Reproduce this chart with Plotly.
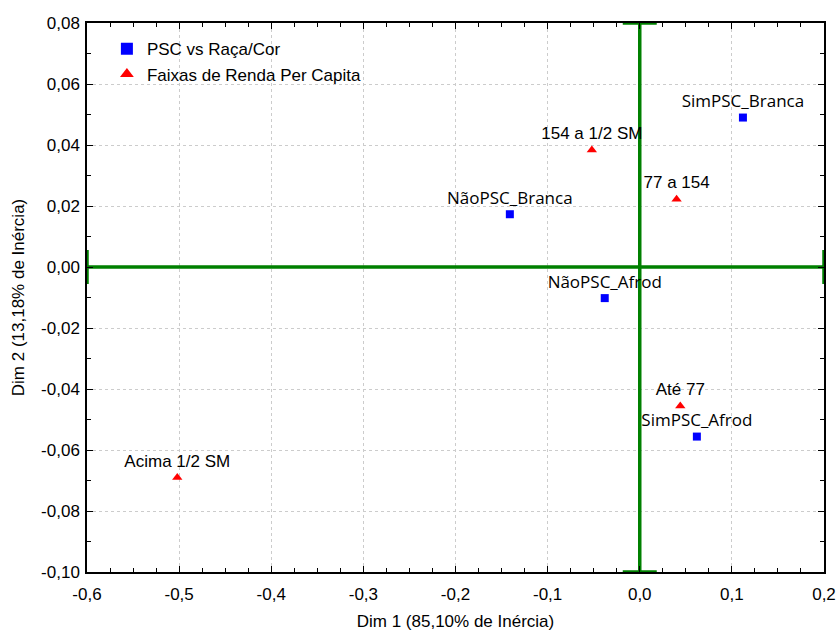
import plotly.graph_objects as go

# --- data -------------------------------------------------------------
psc_labels = ["SimPSC_Branca", "NãoPSC_Branca", "NãoPSC_Afrod", "SimPSC_Afrod"]
psc_dim1 = [0.112, -0.141, -0.038, 0.062]
psc_dim2 = [0.049, 0.0173, -0.0102, -0.0556]

renda_labels = ["154 a 1/2 SM", "77 a 154", "Até 77", "Acima 1/2 SM"]
renda_dim1 = [-0.052, 0.040, 0.044, -0.502]
renda_dim2 = [0.0384, 0.0222, -0.0456, -0.069]

x_ticks = [-0.6, -0.5, -0.4, -0.3, -0.2, -0.1, 0.0, 0.1, 0.2]
x_ticktext = ["-0,6", "-0,5", "-0,4", "-0,3", "-0,2", "-0,1", "0,0", "0,1", "0,2"]
y_ticks = [-0.10, -0.08, -0.06, -0.04, -0.02, 0.0, 0.02, 0.04, 0.06, 0.08]
y_ticktext = ["-0,10", "-0,08", "-0,06", "-0,04", "-0,02", "0,00", "0,02", "0,04", "0,06", "0,08"]

x_range = [-0.6, 0.2]
y_range = [-0.10, 0.08]

GREEN = "#008000"
FONT = "Liberation Sans, Arial"
TICKFONT = dict(family=FONT, size=17, color="#000000")

fig = go.Figure()

# origin cross lines drawn as error bars from the origin to the axis limits
fig.add_trace(go.Scatter(
    x=[0.0], y=[0.0], mode="markers",
    marker=dict(size=1, color="rgba(0,0,0,0)"),
    error_x=dict(type="data", symmetric=False,
                 array=[x_range[1] - 0.0], arrayminus=[0.0 - x_range[0]],
                 color=GREEN, thickness=3.5, width=17),
    error_y=dict(type="data", symmetric=False,
                 array=[y_range[1] - 0.0], arrayminus=[0.0 - y_range[0]],
                 color=GREEN, thickness=3.5, width=17),
    showlegend=False, hoverinfo="skip", cliponaxis=False,
))

fig.add_trace(go.Scatter(
    x=psc_dim1, y=psc_dim2, mode="markers+text",
    name="PSC vs Raça/Cor",
    marker=dict(symbol="square", size=8, color="#0000ff"),
    text=psc_labels, textposition="top center",
    textfont=dict(family="Open Sans", size=17, color="#000000"),
    cliponaxis=False,
))

fig.add_trace(go.Scatter(
    x=renda_dim1, y=renda_dim2, mode="markers+text",
    name="Faixas de Renda Per Capita",
    marker=dict(symbol="triangle-up", size=9, color="#ff0000"),
    text=renda_labels, textposition="top center",
    textfont=dict(family=FONT, size=17, color="#000000"),
    cliponaxis=False,
))

axis_common = dict(
    showline=True, linecolor="#000000", linewidth=1.5, mirror="ticks",
    ticks="inside", ticklen=6, tickcolor="#000000", tickwidth=1,
    showgrid=True, gridcolor="#cccccc", griddash="dot", gridwidth=1,
    zeroline=False, tickfont=TICKFONT, automargin=False,
)

fig.update_xaxes(
    range=x_range, tickmode="array", tickvals=x_ticks, ticktext=x_ticktext,
    minor=dict(dtick=0.025, ticks="inside", ticklen=4, tickcolor="#000000", showgrid=False),
    title=dict(text="Dim 1 (85,10% de Inércia)", font=dict(family=FONT, size=17), standoff=18),
    ticklabelstandoff=6,
    **axis_common,
)
fig.update_yaxes(
    range=y_range, tickmode="array", tickvals=y_ticks, ticktext=y_ticktext,
    minor=dict(dtick=0.01, ticks="inside", ticklen=4, tickcolor="#000000", showgrid=False),
    title=dict(text="Dim 2 (13,18% de Inércia)", font=dict(family=FONT, size=17), standoff=12),
    ticklabelstandoff=2,
    **axis_common,
)

fig.update_layout(
    width=837, height=631,
    margin=dict(l=87, r=13, t=23, b=59),
    paper_bgcolor="#ffffff", plot_bgcolor="#ffffff",
    separators=",.",
    font=dict(family=FONT, size=17, color="#000000"),
    legend=dict(x=0.027, y=0.985, xanchor="left", yanchor="top",
                bgcolor="rgba(255,255,255,0)", borderwidth=0,
                font=dict(family=FONT, size=17),
                tracegroupgap=0, itemsizing="constant"),
    showlegend=True,
)

fig.write_html("out.html")
